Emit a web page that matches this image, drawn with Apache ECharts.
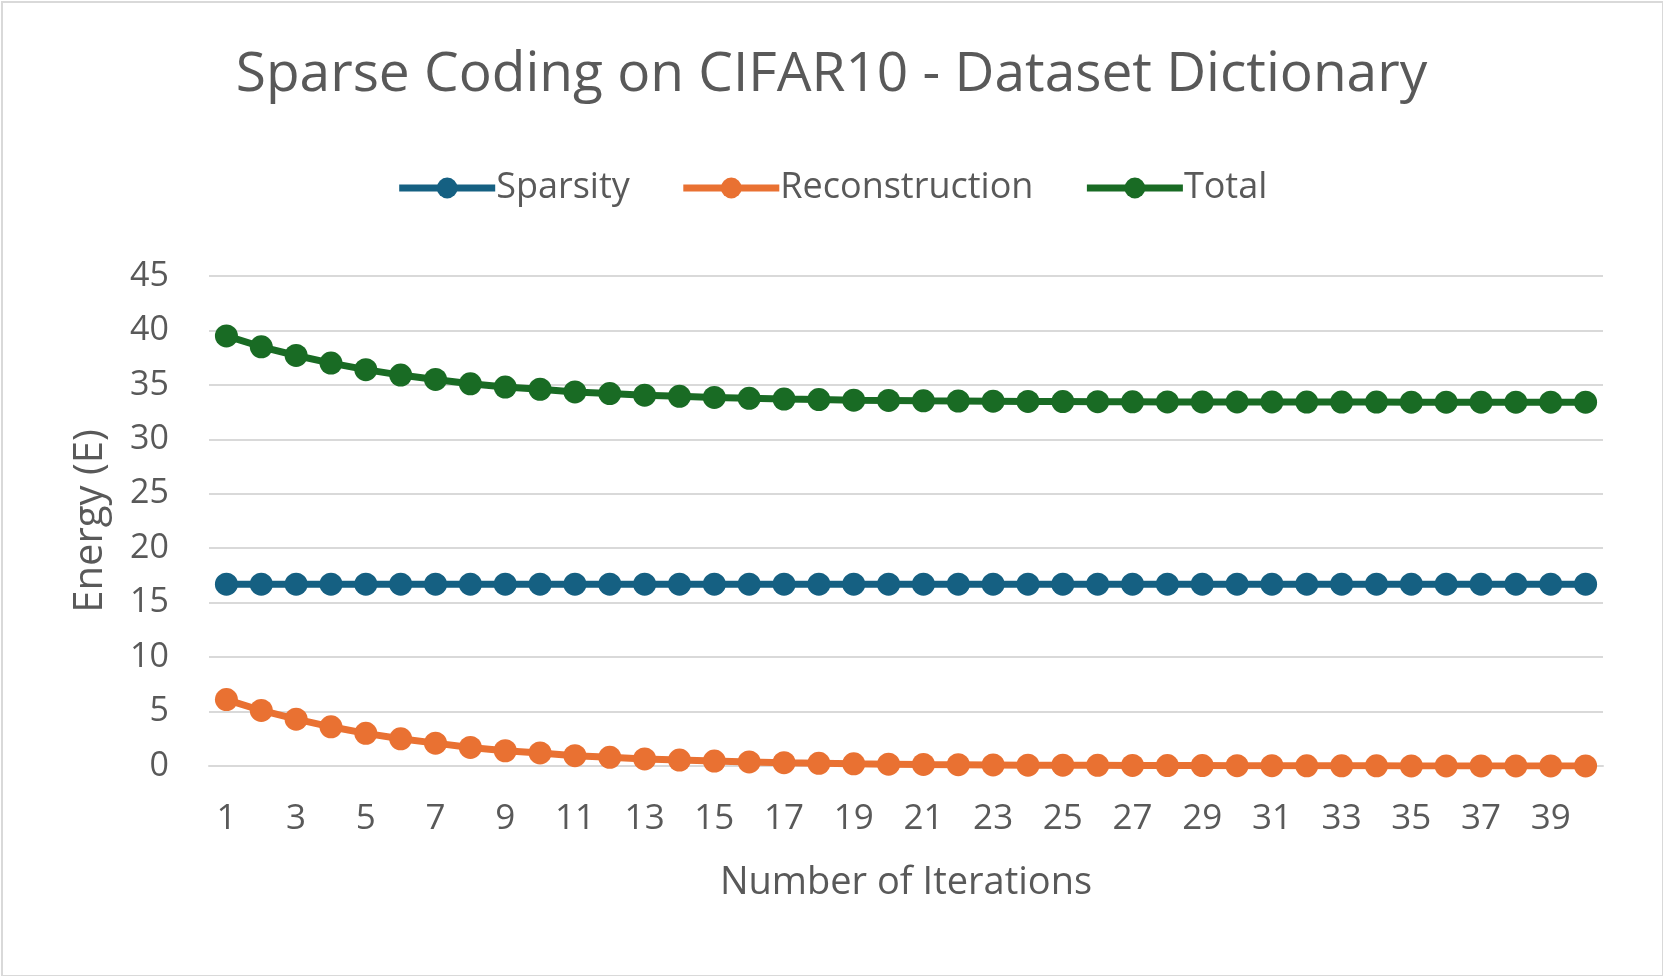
<!DOCTYPE html>
<html>
<head>
<meta charset="utf-8">
<script src="https://cdn.jsdelivr.net/npm/echarts@6/dist/echarts.min.js"></script>
<style>
html,body{margin:0;padding:0;background:#fff;}
#frame{position:absolute;left:1px;top:1px;width:1659px;height:972px;border:2px solid #d9d9d9;box-sizing:content-box;}
#chart{position:absolute;left:0;top:0;width:1663px;height:976px;}
</style>
</head>
<body>
<div id="frame"></div>
<div id="chart"></div>
<script>
const categories = Array.from({length: 40}, (_, i) => String(i + 1));
const sparsity = [16.7,16.7,16.7,16.7,16.7,16.7,16.7,16.7,16.7,16.7,16.7,16.7,16.7,16.7,16.7,16.7,16.7,16.7,16.7,16.7,16.7,16.7,16.7,16.7,16.7,16.7,16.7,16.7,16.7,16.7,16.7,16.7,16.7,16.7,16.7,16.7,16.7,16.7,16.7,16.7];
const reconstruction = [6.1,5.1,4.3,3.6,3.0,2.5,2.1,1.7,1.4,1.2,0.95,0.8,0.65,0.55,0.45,0.37,0.3,0.25,0.2,0.17,0.14,0.12,0.1,0.08,0.07,0.06,0.05,0.04,0.04,0.03,0.03,0.02,0.02,0.02,0.01,0.01,0.01,0.01,0.01,0.01];
const total = [39.5,38.5,37.7,37.0,36.4,35.9,35.5,35.1,34.8,34.6,34.35,34.2,34.05,33.95,33.85,33.77,33.7,33.65,33.6,33.57,33.54,33.52,33.5,33.48,33.47,33.46,33.45,33.44,33.44,33.43,33.43,33.42,33.42,33.42,33.41,33.41,33.41,33.41,33.41,33.41];

const chart = echarts.init(document.getElementById('chart'));
const font = '"Open Sans", sans-serif';
const txt = '#595959';
function line(name, data, color) {
  return {
    name, type: 'line', data,
    symbol: 'circle', symbolSize: 23, showAllSymbol: true,
    lineStyle: {color, width: 7},
    itemStyle: {color},
    emphasis: {disabled: true},
    animation: false
  };
}
chart.setOption({
  animation: false,
  title: {
    text: 'Sparse Coding on CIFAR10 - Dataset Dictionary',
    left: 'center', top: 43,
    textStyle: {fontFamily: font, fontSize: 55, fontWeight: 'normal', color: txt}
  },
  legend: {
    top: 165, left: 'center',
    itemWidth: 96, itemHeight: 26, itemGap: 50,
    lineStyle: {width: 7},
    textStyle: {fontFamily: font, fontSize: 36, color: txt, padding: [0,0,0,-4]},
    data: ['Sparsity', 'Reconstruction', 'Total']
  },
  grid: {left: 209, right: 60, top: 276, bottom: 210},
  xAxis: {
    type: 'category', data: categories,
    name: 'Number of Iterations', nameLocation: 'middle', nameGap: 98,
    nameTextStyle: {fontFamily: font, fontSize: 38, color: txt},
    axisLine: {lineStyle: {color: '#d9d9d9', width: 2}},
    axisTick: {show: false},
    axisLabel: {interval: 1, fontFamily: font, fontSize: 35, color: txt, margin: 36}
  },
  yAxis: {
    type: 'value', min: 0, max: 45, interval: 5,
    name: 'Energy (E)', nameLocation: 'middle', nameGap: 98, nameRotate: 90,
    nameTextStyle: {fontFamily: font, fontSize: 40, color: txt},
    axisLine: {show: false}, axisTick: {show: false},
    splitLine: {lineStyle: {color: '#d9d9d9', width: 2}},
    axisLabel: {fontFamily: font, fontSize: 34, color: txt, margin: 40}
  },
  series: [
    line('Sparsity', sparsity, '#156082'),
    line('Reconstruction', reconstruction, '#E97132'),
    line('Total', total, '#196B24')
  ]
});
</script>
</body>
</html>
